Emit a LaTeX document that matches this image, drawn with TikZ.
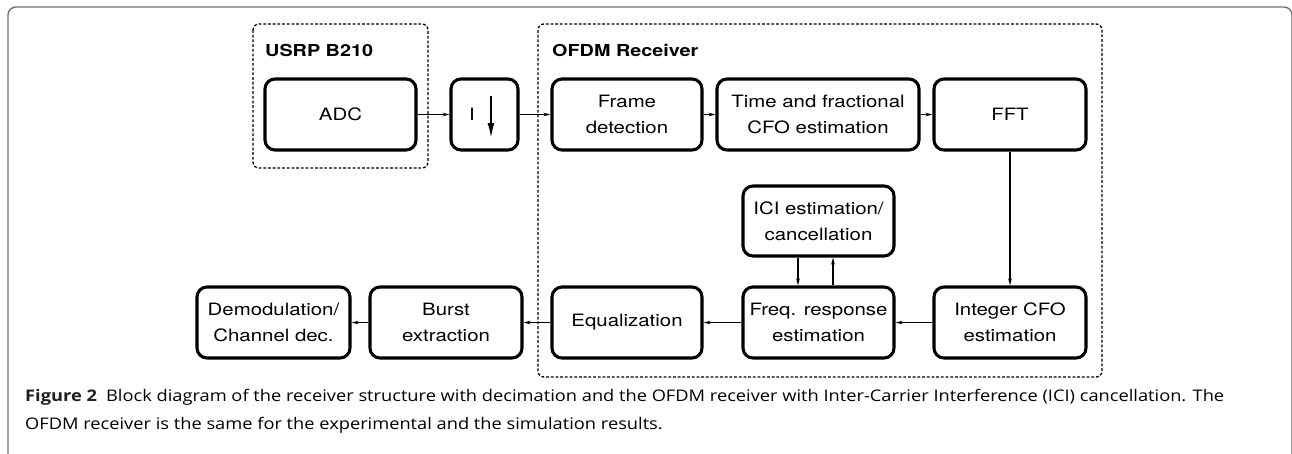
\documentclass[tikz,border=0pt]{standalone}
\usepackage{fontspec}
\usepackage{graphicx}
\setmainfont{TeX Gyre Heros}[FakeStretch=1.2]
\newfontfamily\capfont{Open Sans}
\usetikzlibrary{arrows.meta,calc}
\tikzset{
  blk/.style={draw, line width=3.1pt, rounded corners=10pt, align=center,
    font=\fontsize{17}{26}\selectfont, inner sep=0pt},
  grp/.style={draw, line width=1.3pt, dash pattern=on 2.8pt off 1.9pt, rounded corners=6pt},
  grplbl/.style={anchor=base west, font=\fontsize{16.5}{20}\selectfont\bfseries, inner sep=0pt},
  conn/.style={line width=1.5pt, -{Stealth[length=7pt,width=3.6pt]}},
  captext/.style={anchor=base west, inner sep=0pt, text=black!78, font=\capfont\fontsize{16}{20}\selectfont}
}
\newsavebox\capboxA
\newsavebox\capboxB
\begin{document}
\sbox\capboxA{\capfont\fontsize{16}{20}\selectfont{\bfseries\color{black!88}Figure 2}\hspace{8pt}Block diagram of the receiver structure with decimation and the OFDM receiver with Inter-Carrier Interference (ICI) cancellation. The}%
\sbox\capboxB{\capfont\fontsize{16}{20}\selectfont OFDM receiver is the same for the experimental and the simulation results.}%
\pgfmathsetmacro\capfac{1199/(\wd\capboxA/1pt)}%
\begin{tikzpicture}[x=1pt,y=-1pt]
\useasboundingbox (0,0) rectangle (1292,453);
% outer frame
\draw[black!55, line width=1.4pt, rounded corners=8pt] (8,470) -- (8,7) -- (1292,7) -- (1292,470);
% groups
\draw[grp] (253,24) rectangle (428,168);
\draw[grp] (538,24) rectangle (1102,377);
\node[grplbl] (lusrp) at (265,56) {USRP B210};
\node[grplbl] (lofdm) at (552,56) {OFDM Receiver};
% blocks
\node[blk, minimum width=151pt, minimum height=71pt] (adc) at (340.5,114.5) {ADC};
\node[blk, minimum width=67pt, minimum height=71pt] (dec) at (484.5,114.5) {};
\node[blk, minimum width=150pt, minimum height=71pt] (frame) at (627,114.5) {Frame\\detection};
\node[blk, minimum width=202pt, minimum height=71pt] (time) at (818,114.5) {Time and fractional\\CFO estimation};
\node[blk, minimum width=152pt, minimum height=71pt] (fft) at (1010,114.5) {FFT};
\node[blk, minimum width=151pt, minimum height=70pt] (ici) at (818.5,221) {ICI estimation/\\cancellation};
\node[blk, minimum width=151pt, minimum height=71pt] (freq) at (818.5,322.5) {Freq. response\\estimation};
\node[blk, minimum width=152pt, minimum height=71pt] (int) at (1010,322.5) {Integer CFO\\estimation};
\node[blk, minimum width=150pt, minimum height=71pt] (equ) at (627,322.5) {Equalization};
\node[blk, minimum width=152pt, minimum height=71pt] (burst) at (446,322.5) {Burst\\extraction};
\node[blk, minimum width=153pt, minimum height=71pt] (demod) at (273.5,322.5) {Demodulation/\\Channel dec.};
% decimator content
\node[font=\fontsize{17}{20}\selectfont, inner sep=0pt] (decI) at ($(dec.center)+(-12.5,-0.5)$) {I};
\coordinate (dtop) at ($(dec.center)+(6.5,-19)$);
\coordinate (dbot) at ($(dec.center)+(6.5,23.5)$);
\draw[line width=1.8pt, -{Latex[length=15pt,width=7pt]}] (dtop) -- (dbot);
% connectors
\draw[conn] (adc) -- (dec);
\draw[conn] (dec) -- (frame);
\draw[conn] (frame) -- (time);
\draw[conn] (time) -- (fft);
\draw[conn] (fft) -- (int);
\draw[conn] (int) -- (freq);
\draw[conn] (freq) -- (equ);
\draw[conn] (equ) -- (burst);
\draw[conn] (burst) -- (demod);
\draw[conn] ([xshift=-20.5pt]ici.south) -- ([xshift=-20.5pt]freq.north);
\draw[conn] ([xshift=14.5pt]freq.north) -- ([xshift=14.5pt]ici.south);
% caption
\node[captext] (cap1) at (25,401) {\scalebox{\capfac}[1]{\usebox\capboxA}};
\node[captext] (cap2) at (25,429) {\scalebox{\capfac}[1]{\usebox\capboxB}};
\end{tikzpicture}
\end{document}
